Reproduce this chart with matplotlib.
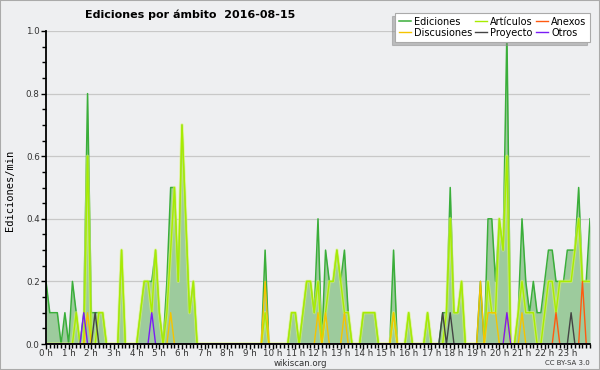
import numpy as np
import matplotlib
matplotlib.use("Agg")
import matplotlib.pyplot as plt
from matplotlib.patches import Rectangle
from matplotlib.ticker import MultipleLocator, FixedLocator, FixedFormatter

# values in edits/min, one point every 10 minutes (0h .. 24h)
n_points = 145

ediciones = [0.0] * n_points
articulos = [0.0] * n_points
discusiones = [0.0] * n_points
proyecto = [0.0] * n_points
anexos = [0.0] * n_points
otros = [0.0] * n_points

ediciones_read = {
    0: 0.2, 1: 0.1, 2: 0.1, 3: 0.1, 5: 0.1, 7: 0.2, 8: 0.1, 10: 0.1, 11: 0.8,
    12: 0.1, 13: 0.1, 14: 0.1, 15: 0.1, 20: 0.3, 25: 0.1, 26: 0.2, 27: 0.2,
    28: 0.2, 29: 0.3, 30: 0.1, 32: 0.2, 33: 0.5, 34: 0.5, 35: 0.2, 36: 0.7,
    37: 0.4, 38: 0.1, 39: 0.2, 58: 0.3, 65: 0.1, 66: 0.1, 68: 0.1, 69: 0.2,
    70: 0.2, 71: 0.1, 72: 0.4, 74: 0.3, 75: 0.2, 76: 0.2, 77: 0.3, 78: 0.2,
    79: 0.3, 80: 0.1, 84: 0.1, 85: 0.1, 86: 0.1, 87: 0.1, 92: 0.3, 96: 0.1,
    101: 0.1, 105: 0.1, 106: 0.1, 107: 0.5, 108: 0.1, 109: 0.1, 110: 0.2,
    115: 0.2, 117: 0.4, 118: 0.4, 119: 0.2, 120: 0.4, 121: 0.3, 122: 1.0,
    125: 0.1, 126: 0.4, 127: 0.2, 128: 0.1, 129: 0.2, 130: 0.1, 131: 0.1,
    132: 0.2, 133: 0.3, 134: 0.3, 135: 0.2, 136: 0.2, 137: 0.2, 138: 0.3,
    139: 0.3, 140: 0.3, 141: 0.5, 142: 0.2, 143: 0.2, 144: 0.4,
}
articulos_read = {
    8: 0.1, 11: 0.6, 14: 0.1, 15: 0.1, 20: 0.3, 25: 0.1, 26: 0.2, 27: 0.2,
    28: 0.1, 29: 0.3, 30: 0.1, 32: 0.1, 33: 0.3, 34: 0.5, 35: 0.2, 36: 0.7,
    37: 0.4, 38: 0.1, 39: 0.2, 58: 0.1, 65: 0.1, 66: 0.1, 68: 0.1, 69: 0.2,
    70: 0.2, 71: 0.1, 72: 0.2, 74: 0.1, 75: 0.2, 76: 0.2, 77: 0.3, 78: 0.2,
    79: 0.1, 80: 0.1, 84: 0.1, 85: 0.1, 86: 0.1, 87: 0.1, 92: 0.1, 96: 0.1,
    101: 0.1, 106: 0.1, 107: 0.4, 108: 0.1, 109: 0.1, 110: 0.2, 117: 0.2,
    118: 0.1, 119: 0.1, 120: 0.4, 121: 0.3, 122: 0.6, 125: 0.1, 126: 0.2,
    127: 0.1, 128: 0.1, 129: 0.1, 132: 0.1, 133: 0.2, 134: 0.2, 135: 0.1,
    136: 0.2, 137: 0.2, 138: 0.2, 139: 0.2, 140: 0.3, 141: 0.4, 142: 0.2,
    143: 0.2, 144: 0.2,
}
discusiones_read = {11: 0.1, 33: 0.1, 58: 0.2, 72: 0.1, 74: 0.1, 79: 0.1,
                    92: 0.1, 115: 0.2, 117: 0.1, 118: 0.1, 119: 0.1,
                    122: 0.1, 126: 0.1}
proyecto_read = {13: 0.1, 105: 0.1, 107: 0.1, 139: 0.1}
anexos_read = {135: 0.1, 142: 0.2}
otros_read = {10: 0.1, 28: 0.1, 122: 0.1}

for k, v in ediciones_read.items():
    ediciones[k] = v
for k, v in articulos_read.items():
    articulos[k] = v
for k, v in discusiones_read.items():
    discusiones[k] = v
for k, v in proyecto_read.items():
    proyecto[k] = v
for k, v in anexos_read.items():
    anexos[k] = v
for k, v in otros_read.items():
    otros[k] = v

hours = np.arange(n_points) / 6.0
hour_labels = ["%d h" % h for h in range(24)]

bg = "#eeeff1"
fig = plt.figure(figsize=(6, 3.7), dpi=100, facecolor=bg)
ax = fig.add_axes([46 / 600, 1 - 344 / 370, 544 / 600, 313 / 370], facecolor=bg)

ax.fill_between(hours, ediciones, color="#9dcb9d", lw=0, zorder=2)
ax.plot(hours, ediciones, color="#3aae3a", lw=1.1, zorder=3, label="Ediciones")
ax.plot(hours, articulos, color="#d9f76a", lw=2.4, alpha=0.6, zorder=3)
ax.plot(hours, articulos, color="#a8ec00", lw=1.0, zorder=4, label="Artículos")
ax.plot(hours, discusiones, color="#f5c400", lw=1.0, zorder=5, label="Discusiones")
ax.plot(hours, proyecto, color="#444444", lw=1.0, zorder=5, label="Proyecto")
ax.plot(hours, anexos, color="#ff5a10", lw=1.0, zorder=5, label="Anexos")
ax.plot(hours, otros, color="#7a1cf5", lw=1.0, zorder=5, label="Otros")

ax.set_xlim(0, 24)
ax.set_ylim(0, 1.0)
ax.xaxis.set_major_locator(FixedLocator(range(24)))
ax.xaxis.set_major_formatter(FixedFormatter(hour_labels))
ax.xaxis.set_minor_locator(MultipleLocator(1 / 6))
ax.yaxis.set_major_locator(MultipleLocator(0.2))
ax.yaxis.set_minor_locator(MultipleLocator(0.05))
ax.yaxis.set_major_formatter(matplotlib.ticker.FormatStrFormatter("%.1f"))
ax.grid(axis="y", which="major", color="#c8c8c8", lw=0.9, zorder=1)
ax.set_axisbelow(True)

for s in ["top", "right"]:
    ax.spines[s].set_visible(False)
for s in ["left", "bottom"]:
    ax.spines[s].set_linewidth(1.3)
    ax.spines[s].set_zorder(6)

ax.tick_params(axis="both", which="major", labelsize=6.3, length=3.5, width=1,
               colors="black", labelcolor="#333333")
ax.tick_params(axis="x", which="major", pad=0)
ax.tick_params(axis="y", which="major", pad=1)
ax.tick_params(axis="both", which="minor", length=3, width=1)

fig.text(10 / 600, 1 - 190 / 370, "Ediciones/min", rotation=90, ha="center",
         va="center", fontsize=7.5, family="DejaVu Sans Mono")
fig.text(85 / 600, 1 - 15 / 370, "Ediciones por ámbito  2016-08-15",
         fontsize=8, fontweight="bold", va="center")
fig.text(0.5, 1 - 363 / 370, "wikiscan.org", ha="center", va="center",
         fontsize=6.2, color="#333333")
fig.text(590 / 600, 1 - 363 / 370, "CC BY-SA 3.0", ha="right", va="center",
         fontsize=5, color="#333333")

handles, labels = ax.get_legend_handles_labels()
order = ["Ediciones", "Discusiones", "Artículos", "Proyecto", "Anexos", "Otros"]
hmap = dict(zip(labels, handles))
leg = fig.legend([hmap[o] for o in order], order, ncol=3,
                 loc="upper right", bbox_to_anchor=(595 / 600, 1 - 8 / 370),
                 fontsize=7, frameon=True, fancybox=False,
                 shadow={"ox": -2.5, "oy": -2.5, "shade": 0.45},
                 edgecolor="#aaaaaa", facecolor="white", framealpha=1,
                 borderpad=0.4, labelspacing=0.1, handlelength=1.2,
                 handletextpad=0.35, columnspacing=0.3)
leg.get_frame().set_linewidth(0.8)

fig.patches.append(Rectangle((0, 0), 1, 1, transform=fig.transFigure,
                             fill=False, edgecolor="#aaaaaa", lw=1.5))

fig.savefig("out.png", dpi=100, facecolor=bg)
